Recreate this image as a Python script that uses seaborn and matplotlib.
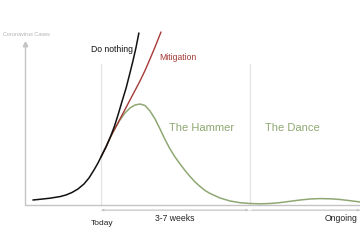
import matplotlib
matplotlib.use("Agg")
import matplotlib.pyplot as plt
import seaborn as sns
import pandas as pd

# ---- data (days from today, case index) ----
black_days = [-15.97, -14.33, -11.98, -9.63, -8.22, -6.81, -5.40, -3.99, -2.82, -1.64, -0.70, 0,
              1.17, 2.11, 3.1, 4.0, 4.9, 5.9, 6.8, 7.5, 8.2, 8.9]
black_cases = [5, 5.7, 6.8, 8.4, 10, 12.5, 16, 21, 27, 35, 42, 48,
               58, 67, 78, 90, 103, 117, 132, 144, 157, 172]

red_days = [0, 1.17, 2.11, 3.29, 4.46, 5.64, 6.81, 7.99, 9.16, 10.34, 11.51, 12.69, 14.09]
red_cases = [48, 58, 67, 76.5, 86, 95.5, 105, 114.5, 124, 134.5, 146, 158, 173]

green_days = [0, 1.17, 2.11, 3.29, 4.46, 5.64, 6.81, 7.99, 9.16, 10.34, 11.51, 12.69, 13.86,
              15.03, 16.21, 17.38, 18.56, 19.73, 20.91, 22.08, 23.26, 24.43, 25.61, 27.95,
              30.30, 32.65, 35.0, 37.35, 39.70, 42.05, 44.40, 46.75, 49.10, 51.44, 53.79,
              56.14, 58.49, 60.84]
green_cases = [48, 58, 67, 76.5, 85, 92, 97, 100, 101, 99.5, 94, 86, 76,
               65.5, 56, 48, 41, 34.5, 28.5, 23, 18.5, 14.5, 11.5, 7,
               4, 2.3, 1.5, 1.2, 1.5, 2.4, 3.7, 5, 6, 6.4, 6.2,
               5.5, 4.3, 3]

phase_bounds = [0, 35]  # today, end of hammer
labels_curves = ["Do nothing", "Mitigation"]
labels_phases = ["The Hammer", "The Dance"]
labels_time = ["Today", "3-7 weeks", "Ongoing"]
axis_title = "Coronavirus Cases"

sns.set_theme(style="white")
plt.rcParams['font.family'] = ['Liberation Sans', 'DejaVu Sans']

fig = plt.figure(figsize=(3.6, 2.47), dpi=100)
ax = fig.add_axes([0, 0, 1, 1])

BLACK = "#111111"
RED = "#a53a36"
GREEN = "#8fa873"
GRAY = "#c4c4c4"
LIGHT = "#e4e4e4"

x0 = -17.85
# axes
ax.plot([x0, x0], [0, 160], color=GRAY, lw=1.0, zorder=1)
ax.plot([x0], [161], marker="^", color=GRAY, ms=3.2, zorder=1)
ax.plot([x0, 60.8], [0, 0], color=GRAY, lw=1.0, zorder=1)
# phase separators
for b in phase_bounds:
    ax.plot([b, b], [0, 141], color=LIGHT, lw=0.9, zorder=0)

# timeline
ax.plot([0, 60.8], [-5, -5], color=LIGHT, lw=0.8, zorder=0)
ax.annotate("", xy=(0.1, -5), xytext=(34.6, -5),
            arrowprops=dict(arrowstyle="<->", color="#bdbdbd", lw=0.6, mutation_scale=3, shrinkA=0, shrinkB=0))
ax.annotate("", xy=(35.4, -5), xytext=(60.8, -5),
            arrowprops=dict(arrowstyle="<-", color="#bdbdbd", lw=0.6, mutation_scale=3, shrinkA=0, shrinkB=0))

df_b = pd.DataFrame({"d": black_days, "c": black_cases})
df_r = pd.DataFrame({"d": red_days, "c": red_cases})
df_g = pd.DataFrame({"d": green_days, "c": green_cases})
sns.lineplot(data=df_g, x="d", y="c", ax=ax, color=GREEN, lw=1.1, sort=False, zorder=3)
sns.lineplot(data=df_r, x="d", y="c", ax=ax, color=RED, lw=1.0, sort=False, zorder=4)
sns.lineplot(data=df_b, x="d", y="c", ax=ax, color=BLACK, lw=1.1, sort=False, zorder=5)
ax.set_xlim(-23.7, 60.8)
ax.set_ylim(-42, 205)
ax.axis("off")

ax.text(-17.4, 170, axis_title, color="#b0b0b0", fontsize=4.0, ha="center", va="center")
ax.text(2.7, 156, labels_curves[0], color=BLACK, fontsize=6.2, ha="center", va="center")
ax.text(18.1, 148, labels_curves[1], color=RED, fontsize=6.2, ha="center", va="center")
ax.text(23.7, 77, labels_phases[0], color=GREEN, fontsize=8.0, ha="center", va="center")
ax.text(44.9, 77, labels_phases[1], color=GREEN, fontsize=8.0, ha="center", va="center")
ax.text(0.2, -18, labels_time[0], color="#222222", fontsize=6.0, ha="center", va="center")
ax.text(17.4, -13, labels_time[1], color="#222222", fontsize=6.2, ha="center", va="center")
ax.text(56.4, -13, labels_time[2], color="#222222", fontsize=6.2, ha="center", va="center")

fig.savefig("out.png", dpi=100)
